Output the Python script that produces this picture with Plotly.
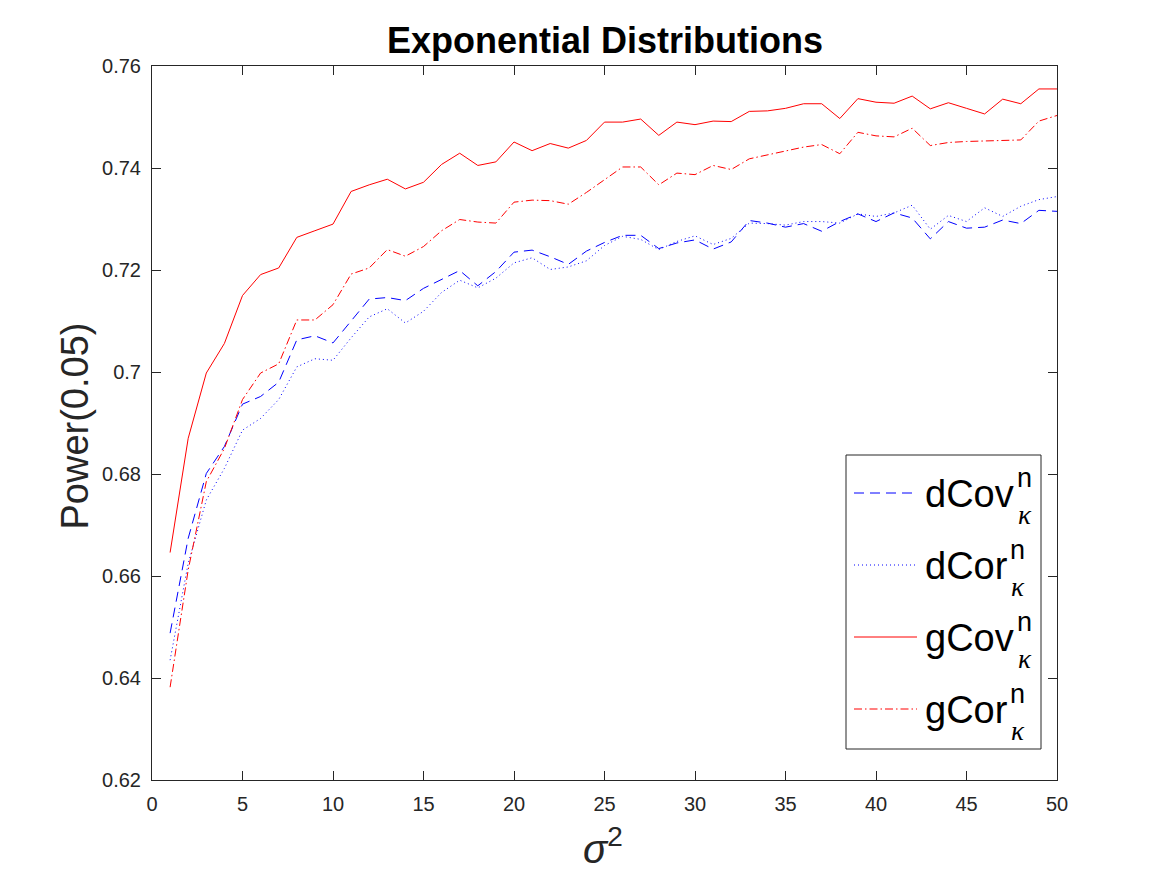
import plotly.graph_objects as go

sigma2 = list(range(1, 51))

dcov = [0.6488, 0.6674, 0.6801, 0.6854, 0.6937, 0.6952, 0.6980, 0.7063, 0.7071, 0.7057,
        0.7100, 0.7143, 0.7146, 0.7140, 0.7164, 0.7182, 0.7199, 0.7169, 0.7197, 0.7235,
        0.7239, 0.7226, 0.7211, 0.7237, 0.7254, 0.7268, 0.7268, 0.7242, 0.7253, 0.7259,
        0.7241, 0.7255, 0.7297, 0.7292, 0.7284, 0.7291, 0.7276, 0.7295, 0.7310, 0.7295,
        0.7312, 0.7302, 0.7261, 0.7295, 0.7282, 0.7284, 0.7298, 0.7291, 0.7317, 0.7315]

dcor = [0.6435, 0.6625, 0.6749, 0.6811, 0.6886, 0.6909, 0.6946, 0.7010, 0.7026, 0.7023,
        0.7067, 0.7108, 0.7124, 0.7096, 0.7119, 0.7156, 0.7180, 0.7165, 0.7184, 0.7214,
        0.7224, 0.7201, 0.7206, 0.7218, 0.7248, 0.7266, 0.7260, 0.7240, 0.7256, 0.7267,
        0.7250, 0.7262, 0.7292, 0.7291, 0.7288, 0.7295, 0.7295, 0.7292, 0.7310, 0.7305,
        0.7312, 0.7327, 0.7280, 0.7307, 0.7295, 0.7322, 0.7305, 0.7325, 0.7338, 0.7344]

gcov = [0.6646, 0.6870, 0.6998, 0.7056, 0.7150, 0.7191, 0.7204, 0.7264, 0.7277, 0.7290,
        0.7354, 0.7367, 0.7378, 0.7359, 0.7372, 0.7407, 0.7429, 0.7405, 0.7412, 0.7451,
        0.7434, 0.7448, 0.7439, 0.7454, 0.7490, 0.7490, 0.7496, 0.7464, 0.7490, 0.7485,
        0.7492, 0.7491, 0.7511, 0.7512, 0.7517, 0.7526, 0.7526, 0.7497, 0.7536, 0.7529,
        0.7527, 0.7541, 0.7516, 0.7528, 0.7517, 0.7506, 0.7535, 0.7526, 0.7555, 0.7555]

gcor = [0.6382, 0.6612, 0.6785, 0.6850, 0.6946, 0.6998, 0.7016, 0.7102, 0.7102, 0.7132,
        0.7192, 0.7204, 0.7240, 0.7227, 0.7246, 0.7277, 0.7299, 0.7294, 0.7292, 0.7333,
        0.7337, 0.7336, 0.7329, 0.7352, 0.7377, 0.7402, 0.7402, 0.7367, 0.7390, 0.7387,
        0.7405, 0.7397, 0.7418, 0.7426, 0.7434, 0.7441, 0.7446, 0.7428, 0.7470, 0.7463,
        0.7461, 0.7478, 0.7444, 0.7450, 0.7452, 0.7453, 0.7453, 0.7455, 0.7492, 0.7503]

series_names = ["dCov", "dCor", "gCov", "gCor"]
x_ticks = list(range(0, 51, 5))
y_ticks = [0.62, 0.64, 0.66, 0.68, 0.70, 0.72, 0.74, 0.76]
y_ticktext = ["0.62", "0.64", "0.66", "0.68", "0.7", "0.72", "0.74", "0.76"]

FONT = "Liberation Sans, Arial, Helvetica, sans-serif"
AX = "#262626"
DASH = "10px,6px"
DOT = "1px,3px"
DASHDOT = "8px,3px,1.5px,3px"

styles = [
    dict(color="#0000ff", dash=DASH),
    dict(color="#0000ff", dash=DOT),
    dict(color="#ff0000", dash="solid"),
    dict(color="#ff0000", dash=DASHDOT),
]

fig = go.Figure()
for name, ys, st in zip(series_names, [dcov, dcor, gcov, gcor], styles):
    fig.add_trace(go.Scatter(x=sigma2, y=ys, mode="lines", name=name,
                             line=dict(color=st["color"], dash=st["dash"], width=1),
                             showlegend=False))

# plot area in pixels
L, R, T, B = 152, 1057, 66, 780
W, H = R - L, B - T


def px(x):
    return (x - L) / W


def py(y):
    return (B - y) / H


annotations = []
shapes = []

# title
annotations.append(dict(text="<b>Exponential Distributions</b>", x=px(604.5), y=py(41),
                        xref="paper", yref="paper", showarrow=False,
                        xanchor="center", yanchor="middle",
                        font=dict(family=FONT, size=36, color="#000000")))
# axis labels
annotations.append(dict(text="Power(0.05)", x=px(74), y=py(426.5), textangle=-90,
                        xref="paper", yref="paper", showarrow=False,
                        xanchor="center", yanchor="middle",
                        font=dict(family=FONT, size=38, color=AX)))
annotations.append(dict(text="<i>σ</i><sup>2</sup>", x=px(603), y=py(846),
                        xref="paper", yref="paper", showarrow=False,
                        xanchor="center", yanchor="middle",
                        font=dict(family=FONT, size=40, color=AX)))

# legend box
shapes.append(dict(type="rect", xref="paper", yref="paper",
                   x0=px(846), x1=px(1041), y0=py(455), y1=py(749),
                   line=dict(color=AX, width=1), fillcolor="white", layer="above"))

LEG_FS = 38
char_w = {"d": 0.556, "g": 0.556, "C": 0.722, "o": 0.556, "v": 0.5, "r": 0.333}
legend_y = [493, 565, 637, 709]
for name, st, ly in zip(series_names, styles, legend_y):
    shapes.append(dict(type="line", xref="paper", yref="paper",
                       x0=px(854), x1=px(917), y0=py(ly), y1=py(ly),
                       line=dict(color=st["color"], dash=st["dash"], width=1),
                       layer="above"))
    annotations.append(dict(text=name, x=px(923), y=py(ly + 1),
                            xref="paper", yref="paper", showarrow=False,
                            xanchor="left", yanchor="middle",
                            font=dict(family=FONT, size=LEG_FS, color="#000000")))
    tw = sum(char_w[c] for c in name) * LEG_FS
    annotations.append(dict(text="n", x=px(923 + tw + 3), y=py(ly - 15),
                            xref="paper", yref="paper", showarrow=False,
                            xanchor="left", yanchor="middle",
                            font=dict(family=FONT, size=27, color="#000000")))
    annotations.append(dict(text="<i>κ</i>", x=px(923 + tw + 4), y=py(ly + 22),
                            xref="paper", yref="paper", showarrow=False,
                            xanchor="left", yanchor="middle",
                            font=dict(family="Liberation Serif, serif", size=27, color="#000000")))

fig.update_layout(
    width=1167, height=875,
    margin=dict(l=L, r=1167 - R, t=T, b=875 - B, pad=0),
    paper_bgcolor="white", plot_bgcolor="white",
    annotations=annotations, shapes=shapes,
    showlegend=False,
)
fig.update_xaxes(range=[0, 50], tickvals=x_ticks, ticktext=[str(v) for v in x_ticks],
                 showgrid=False, zeroline=False, showline=True, linecolor=AX, linewidth=1,
                 mirror="ticks", ticks="inside", ticklen=9, tickcolor=AX, tickwidth=1,
                 tickfont=dict(family=FONT, size=20, color=AX), ticklabelstandoff=6)
fig.update_yaxes(range=[0.62, 0.76], tickvals=y_ticks, ticktext=y_ticktext,
                 showgrid=False, zeroline=False, showline=True, linecolor=AX, linewidth=1,
                 mirror="ticks", ticks="inside", ticklen=9, tickcolor=AX, tickwidth=1,
                 tickfont=dict(family=FONT, size=20, color=AX), ticklabelstandoff=6)

fig.write_html("out.html")
